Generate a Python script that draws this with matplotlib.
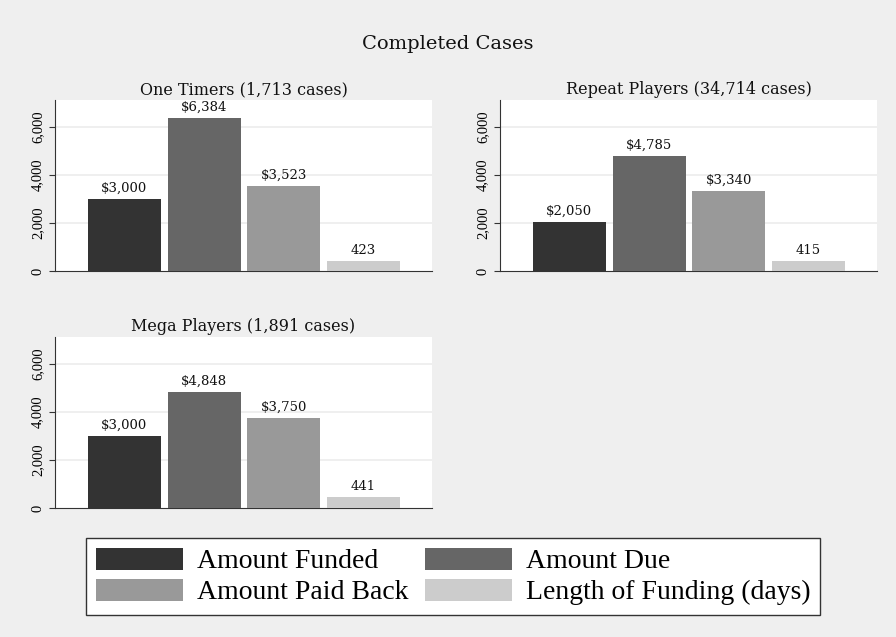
import matplotlib
matplotlib.use("Agg")
import matplotlib.pyplot as plt
from matplotlib.patches import Patch

# ---- data ----
series = ["Amount Funded", "Amount Due", "Amount Paid Back", "Length of Funding (days)"]
colors = ["#333333", "#666666", "#999999", "#cccccc"]
panel_titles = ["One Timers (1,713 cases)", "Repeat Players (34,714 cases)", "Mega Players (1,891 cases)"]
one_timers = [3000, 6384, 3523, 423]
repeat_players = [2050, 4785, 3340, 415]
mega_players = [3000, 4848, 3750, 441]
value_labels = [["$3,000", "$6,384", "$3,523", "423"],
                ["$2,050", "$4,785", "$3,340", "415"],
                ["$3,000", "$4,848", "$3,750", "441"]]
yticks = [0, 2000, 4000, 6000]
ytick_labels = ["0", "2,000", "4,000", "6,000"]
main_title = "Completed Cases"

W, H = 896, 637
BG = "#efefef"
fig = plt.figure(figsize=(W / 100, H / 100), dpi=100, facecolor=BG)

serif = ["DejaVu Serif"]

def px_axes(left, top, right, bottom):
    return fig.add_axes([left / W, 1 - bottom / H, (right - left) / W, (bottom - top) / H])

boxes = [(55, 100, 432, 271), (500, 100, 877, 271), (55, 337, 432, 508)]
data = [one_timers, repeat_players, mega_players]

for box, vals, labs, ttl in zip(boxes, data, value_labels, panel_titles):
    ax = px_axes(*box)
    ax.set_facecolor("white")
    x = list(range(len(vals)))
    bars = ax.bar(x, vals, width=0.915, color=colors, zorder=3)
    for b, lab in zip(bars, labs):
        ax.annotate(lab, (b.get_x() + b.get_width() / 2, b.get_height()),
                    xytext=(0, 3), textcoords="offset points", ha="center", va="bottom",
                    fontsize=9.5, family=serif, color="#111111")
    ax.set_xlim(-0.87, 3.86)
    ax.set_ylim(0, 7120)
    ax.set_yticks(yticks)
    ax.set_yticklabels(ytick_labels, rotation=90, va="center", fontsize=10.5,
                       family=["Liberation Serif"])
    ax.set_xticks([])
    for y in yticks[1:]:
        ax.axhline(y, color="#ececec", lw=1.2, zorder=1)
    ax.spines["top"].set_visible(False)
    ax.spines["right"].set_visible(False)
    ax.spines["left"].set_color("#333333")
    ax.spines["bottom"].set_color("#333333")
    ax.tick_params(axis="y", length=4.3, width=0.8, color="#333333", pad=3.5)
    ax.set_title(ttl, fontsize=11.5, family=serif, pad=4, color="#111111")

fig.text(448 / W, 1 - 44 / H, main_title, ha="center", va="center", fontsize=14,
         family=serif, color="#111111")

handles = [Patch(facecolor=colors[i], edgecolor="none") for i in [0, 2, 1, 3]]
labels = [series[i] for i in [0, 2, 1, 3]]
leg = fig.legend(handles, labels, ncol=2, loc="center",
                 bbox_to_anchor=(453 / W, 1 - 576.5 / H),
                 prop={"family": "Liberation Serif", "size": 20},
                 frameon=True, fancybox=False, edgecolor="#333333", framealpha=1,
                 handlelength=3.13, handleheight=0.86, handletextpad=0.5,
                 columnspacing=0.6, labelspacing=0.15, borderpad=0.35)
leg.get_frame().set_linewidth(1.0)
leg.get_frame().set_facecolor("white")

fig.savefig("out.png", dpi=100, facecolor=BG)
